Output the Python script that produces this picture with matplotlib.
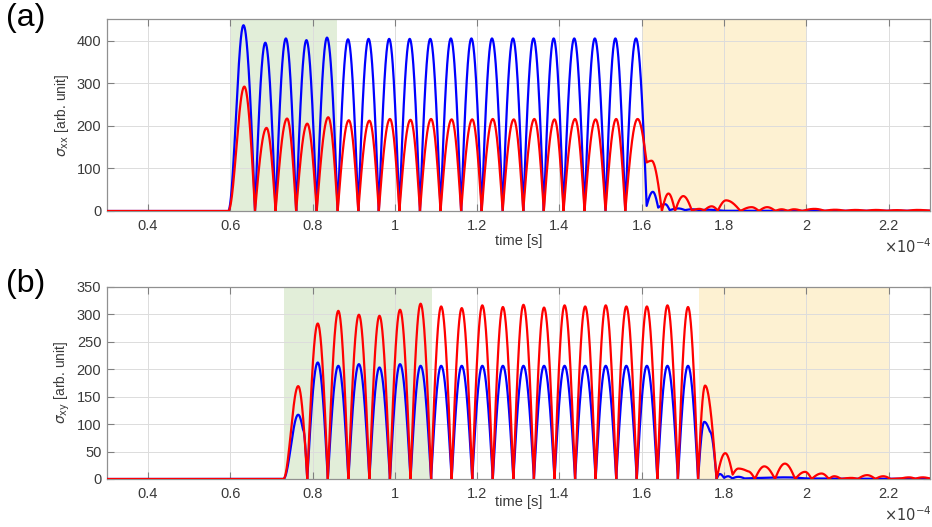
import numpy as np
import matplotlib
matplotlib.use("Agg")
import matplotlib.pyplot as plt

# ---------------- data (time in units of 1e-4 s) ----------------
# extrema / knots: (time, value)
xx_blue_t = [0.30, 0.595, 0.632, 0.660, 0.685, 0.710, 0.735, 0.760, 0.785, 0.810,
             0.835, 0.861, 0.886, 0.911, 0.936, 0.961, 0.986, 1.011, 1.036, 1.061,
             1.086, 1.111, 1.136, 1.161, 1.186, 1.211, 1.236, 1.262, 1.287, 1.312,
             1.337, 1.362, 1.386, 1.410, 1.436, 1.461, 1.486, 1.512, 1.536, 1.560,
             1.586, 1.612, 1.627, 1.640, 1.657, 1.668, 1.689, 1.705, 1.722, 1.740,
             1.760, 1.800, 2.300]
xx_blue_v = [0, 0, 436, 0, 395, 0, 405, 0, 401, 0,
             407, 0, 403, 0, 404, 0, 404, 0, 404, 0,
             404, 0, 405, 0, 405, 0, 405, 0, 405, 0,
             405, 0, 405, 0, 405, 0, 405, 0, 405, 0,
             405, 12, 45, 8, 16, 2, 6, 2, 4, 2,
             3, 0.5, 0.5]

xx_red_t = [0.30, 0.595, 0.634, 0.660, 0.688, 0.710, 0.738, 0.760, 0.787, 0.810,
            0.838, 0.861, 0.888, 0.911, 0.938, 0.961, 0.988, 1.011, 1.038, 1.061,
            1.088, 1.111, 1.138, 1.161, 1.188, 1.211, 1.238, 1.262, 1.289, 1.312,
            1.339, 1.362, 1.388, 1.410, 1.438, 1.461, 1.488, 1.512, 1.538, 1.560,
            1.590, 1.612, 1.624, 1.649, 1.665, 1.681, 1.701, 1.722, 1.740, 1.752,
            1.770, 1.785, 1.805, 1.840, 1.867, 1.885, 1.905, 1.925, 1.940, 1.955,
            1.970, 1.990, 2.020, 2.045, 2.070, 2.095, 2.120, 2.145, 2.170, 2.195,
            2.220, 2.245, 2.270, 2.300]
xx_red_v = [0, 0, 292, 0, 195, 0, 217, 0, 205, 0,
            220, 0, 213, 0, 212, 0, 216, 0, 214, 0,
            216, 0, 215, 0, 215, 0, 216, 0, 215, 0,
            216, 0, 215, 0, 216, 0, 215, 0, 216, 0,
            216, 114, 118, 0, 41, 0, 35, 1, 5, 1,
            11, 1, 25, 0, 9, 0, 9, 0, 4, 0,
            4, 0, 5, 0.5, 3, 0.5, 2.5, 0.5, 2.5, 0.5,
            2, 0.5, 2.5, 1]

xy_blue_t = [0.30, 0.729, 0.765, 0.777, 0.787, 0.8125, 0.837, 0.8625, 0.887, 0.9125,
             0.938, 0.9625, 0.988, 1.0125, 1.038, 1.0625, 1.088, 1.1125, 1.138, 1.1625,
             1.188, 1.2125, 1.238, 1.2625, 1.288, 1.3125, 1.338, 1.3625, 1.388, 1.4125,
             1.438, 1.4625, 1.488, 1.5125, 1.538, 1.5625, 1.588, 1.6125, 1.638, 1.6625,
             1.688, 1.7125, 1.737, 1.752, 1.766, 1.782, 1.790, 1.800, 1.810, 1.820,
             1.835, 1.850, 1.900, 1.950, 2.000, 2.100, 2.300]
xy_blue_v = [0, 0, 117, 89, 0, 212, 0, 206, 0, 209,
             0, 203, 0, 209, 0, 206, 0, 206, 0, 206,
             0, 206, 0, 206, 0, 206, 0, 206, 0, 206,
             0, 206, 0, 206, 0, 206, 0, 206, 0, 206,
             0, 206, 0, 104, 86, 0, 9, 2, 5, 1,
             4, 1, 2, 3, 1, 0.5, 0.5]

xy_red_t = [0.30, 0.729, 0.765, 0.787, 0.8125, 0.837, 0.8625, 0.887, 0.9125,
            0.938, 0.9625, 0.988, 1.0125, 1.038, 1.0625, 1.088, 1.1125, 1.138, 1.1625,
            1.188, 1.2125, 1.238, 1.2625, 1.288, 1.3125, 1.338, 1.3625, 1.388, 1.4125,
            1.438, 1.4625, 1.488, 1.5125, 1.538, 1.5625, 1.588, 1.6125, 1.638, 1.6625,
            1.688, 1.7125, 1.737, 1.754, 1.782, 1.803, 1.821, 1.835, 1.858, 1.875,
            1.898, 1.924, 1.948, 1.973, 1.997, 2.013, 2.037, 2.055, 2.068, 2.085,
            2.110, 2.125, 2.148, 2.168, 2.187, 2.205, 2.230, 2.250, 2.265, 2.283, 2.300]
xy_red_v = [0, 0, 169, 0, 283, 0, 306, 0, 299,
            0, 297, 0, 308, 0, 319, 0, 314, 0, 311,
            0, 316, 0, 313, 0, 317, 0, 312, 0, 316,
            0, 314, 0, 316, 0, 314, 0, 314, 0, 316,
            0, 313, 0, 170, 0, 47, 8, 19, 14, 0,
            23, 0, 28, 0, 13, 0, 10, 0, 5, 0,
            2, 0, 7, 0, 5, 0, 1, 3, 0.5, 3, 1]

# shaded regions (start, end)
xx_green = (0.60, 0.86)
xx_yellow = (1.60, 2.00)
xy_green = (0.73, 1.09)
xy_yellow = (1.74, 2.20)

x_ticks = [0.4, 0.6, 0.8, 1.0, 1.2, 1.4, 1.6, 1.8, 2.0, 2.2]
x_ticklabels = ["0.4", "0.6", "0.8", "1", "1.2", "1.4", "1.6", "1.8", "2", "2.2"]
xx_yticks = [0, 100, 200, 300, 400]
xy_yticks = [0, 50, 100, 150, 200, 250, 300, 350]


def render(tk, vk, n=40):
    """Draw smooth lobes between read extrema (cusp at troughs, round at crests)."""
    xs, ys = [], []
    prev_flat = False
    for i in range(len(tk) - 1):
        t0, t1, v0, v1 = tk[i], tk[i + 1], vk[i], vk[i + 1]
        u = np.linspace(0, 1, n, endpoint=False)
        if v1 == v0:
            v = np.full_like(u, v0, dtype=float)
            flat = True
        elif v1 > v0 and prev_flat:
            v = v0 + (v1 - v0) * (1 - np.cos(np.pi * u)) / 2
            flat = False
        elif v1 > v0:
            v = v0 + (v1 - v0) * np.sin(np.pi / 2 * u)
            flat = False
        else:
            v = v1 + (v0 - v1) * np.cos(np.pi / 2 * u)
            flat = False
        prev_flat = flat
        xs.append(t0 + (t1 - t0) * u)
        ys.append(v)
    xs.append([tk[-1]])
    ys.append([vk[-1]])
    return np.concatenate(xs), np.concatenate(ys)


plt.rcParams['font.family'] = ['Liberation Sans', 'DejaVu Sans']
plt.rcParams['mathtext.fontset'] = 'dejavusans'

W, H = 932, 527
fig = plt.figure(figsize=(W / 100, H / 100), dpi=100)

ax_l, ax_r = 106.9, 929.7
panels = [
    dict(top=19.3, bot=211.0, ylim=(0, 450), yticks=xx_yticks,
         blue=(xx_blue_t, xx_blue_v), red=(xx_red_t, xx_red_v),
         green=xx_green, yellow=xx_yellow, ylabel=r'$\sigma_{\rm xx}$ [arb. unit]',
         tag='(a)', tag_y=18, xlab_y=241, exp_y=247),
    dict(top=286.7, bot=479.0, ylim=(0, 350), yticks=xy_yticks,
         blue=(xy_blue_t, xy_blue_v), red=(xy_red_t, xy_red_v),
         green=xy_green, yellow=xy_yellow, ylabel=r'$\sigma_{\rm xy}$ [arb. unit]',
         tag='(b)', tag_y=284, xlab_y=502, exp_y=515),
]

tick_color = '#3a3a3a'
for p in panels:
    ax = fig.add_axes([ax_l / W, 1 - p['bot'] / H, (ax_r - ax_l) / W, (p['bot'] - p['top']) / H])
    ax.set_xlim(0.3, 2.3)
    ax.set_ylim(*p['ylim'])
    ax.axvspan(*p['green'], color='#e2eed9', lw=0, zorder=0.2)
    ax.axvspan(*p['yellow'], color='#fdf1d2', lw=0, zorder=0.2)
    ax.set_axisbelow(True)
    ax.grid(True, color='#dcdcdc', lw=0.7, zorder=0.5)
    bx, by = render(*p['blue'])
    rx, ry = render(*p['red'])
    ax.plot(bx, by, color='#0000ff', lw=1.6, zorder=3)
    ax.plot(rx, ry, color='#ff0000', lw=1.6, zorder=3)
    ax.set_xticks(x_ticks)
    ax.set_xticklabels(x_ticklabels)
    ax.set_yticks(p['yticks'])
    ax.tick_params(direction='in', length=5, width=0.8, color='#808080',
                   top=True, right=True, labelsize=10.5, labelcolor=tick_color)
    ax.tick_params(axis='x', pad=6)
    ax.tick_params(axis='y', pad=4)
    for s in ax.spines.values():
        s.set_color('#909090')
        s.set_linewidth(0.9)
    hpx = p['bot'] - p['top']
    wpx = ax_r - ax_l
    ax.set_xlabel('time [s]', fontsize=10.5, color=tick_color)
    ax.xaxis.set_label_coords(0.5, -(p['xlab_y'] - p['bot']) / hpx)
    ax.xaxis.label.set_va('center')
    ax.set_ylabel(p['ylabel'], fontsize=10, color=tick_color)
    ax.yaxis.set_label_coords(-(ax_l - 62.5) / wpx, 0.5)
    ax.yaxis.label.set_va('center')
    fig.text(0.999, 1 - p['exp_y'] / H, r'$\times10^{-4}$', ha='right', va='center',
             fontsize=10.5, color=tick_color)
    fig.text(6 / W, 1 - p['tag_y'] / H, p['tag'], ha='left', va='center', fontsize=23,
             color='black')

fig.savefig('out.png', dpi=100)
